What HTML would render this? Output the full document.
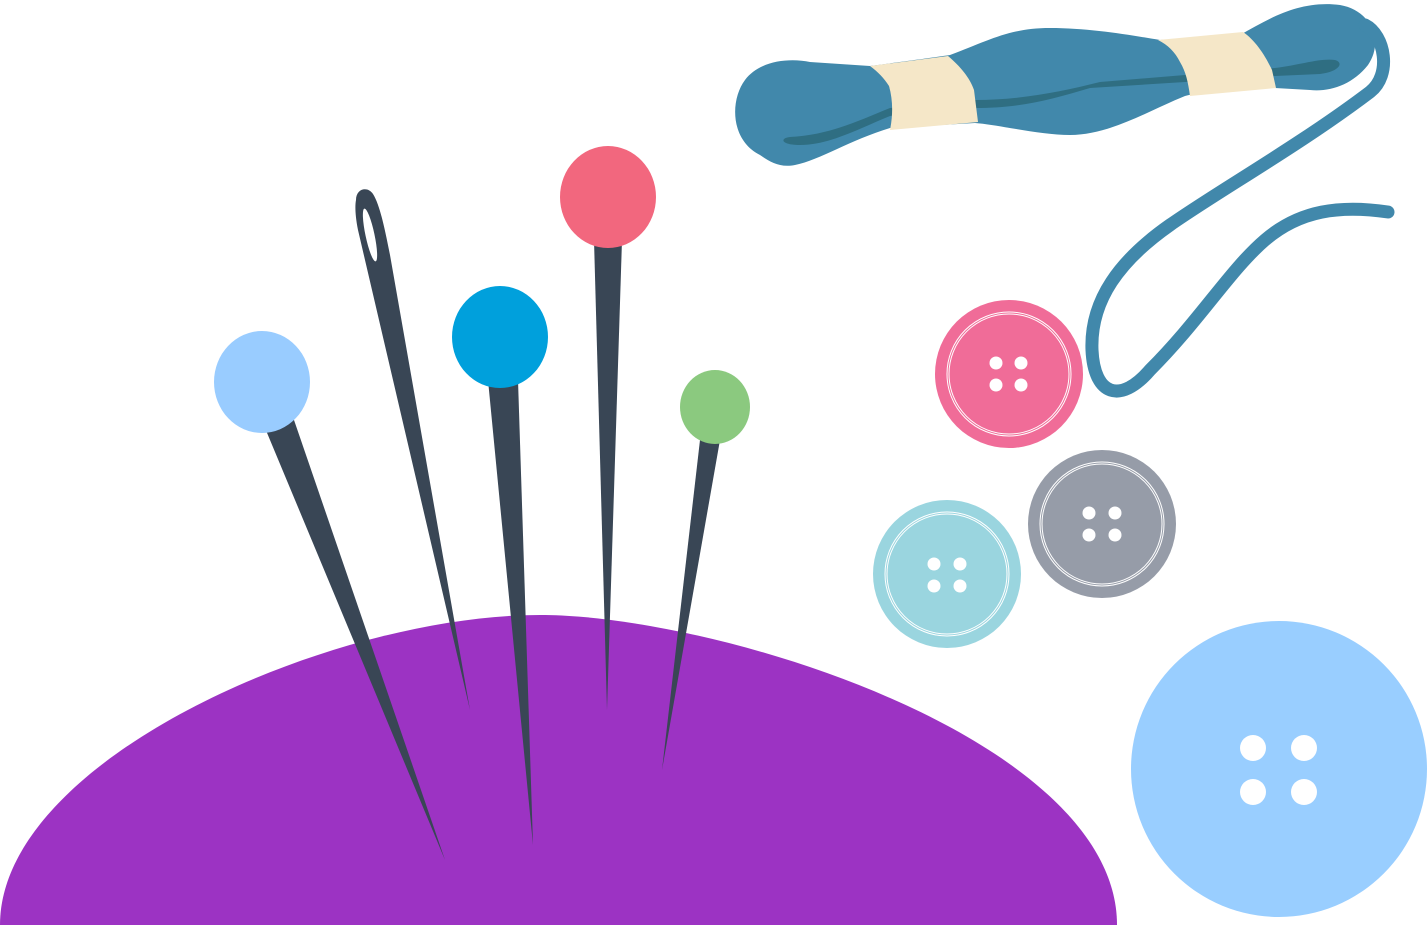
<!DOCTYPE html>
<html><head><meta charset="utf-8"><style>html,body{margin:0;padding:0;background:#fff;width:1428px;height:925px;overflow:hidden}svg{display:block}</style></head>
<body>
<svg width="1428" height="925" viewBox="0 0 1428 925" xmlns="http://www.w3.org/2000/svg">
<path d="M0,925 C0,760 330,615 540,615 C720,615 1117,740 1117,925 Z" fill="#9C33C3"/>
<g fill="#394655">
<polygon points="265,428 294,420 445,860"/>
<path d="M356,200 C356,188 368,186 373,194 C380,205 385,230 390,255 L470,710 L358,230 C355,215 355,205 356,200 Z"/>
<polygon points="488,380 518,380 533,845"/>
<polygon points="594,240 622,240 607,710"/>
<polygon points="700,440 720,440 662,770"/>
</g>
<ellipse cx="370" cy="235" rx="4.5" ry="27" transform="rotate(-12 370 235)" fill="#fff"/>
<ellipse cx="262" cy="382" rx="48" ry="51" fill="#99CCFF"/>
<ellipse cx="500" cy="337" rx="48" ry="51" fill="#00A0DC"/>
<ellipse cx="608" cy="197" rx="48" ry="51" fill="#F2677E"/>
<ellipse cx="715" cy="407" rx="35" ry="37" fill="#8BC97F"/>
<path d="M760,155 C730,140 730,100 745,80 C760,60 790,58 810,62 L870,66 C900,62 930,58 950,55 C990,40 1010,28 1050,28 C1090,28 1130,35 1160,40 L1240,35 C1270,18 1300,0 1340,5 C1370,10 1385,40 1368,65 C1352,85 1330,92 1310,90 L1275,88 C1240,88 1200,92 1185,96 C1150,110 1110,135 1070,135 C1040,135 1000,125 975,123 L890,128 C850,140 820,160 795,165 C780,168 770,162 760,155 Z" fill="#4188AB"/>
<path d="M790,137 C830,135 860,120 890,108 L975,100 C1020,100 1060,92 1100,82 L1185,75 L1275,68 C1300,65 1320,58 1335,60 C1345,63 1338,72 1320,74 L1275,76 L1185,82 L1090,88 C1050,100 1020,108 975,108 L890,116 C860,128 830,145 800,145 C780,145 780,138 790,137 Z" fill="#2F6E82"/>
<path d="M870,66 L948,56 C960,66 970,78 974,90 L978,122 L890,130 C893,115 893,100 889,86 C884,78 878,72 870,66 Z" fill="#F5E7C8"/>
<path d="M1158,40 L1243,32 C1255,40 1265,55 1272,70 L1276,88 L1190,96 C1188,82 1186,72 1180,62 C1175,52 1168,45 1158,40 Z" fill="#F5E7C8"/>
<path d="M1365,25 C1385,35 1392,75 1370,92 C1300,145 1220,190 1170,225 C1120,260 1090,300 1092,350 C1094,395 1120,405 1150,370 C1200,320 1230,270 1265,240 C1300,210 1340,205 1388,212" fill="none" stroke="#4188AB" stroke-width="13" stroke-linecap="round"/>
<g>
<circle cx="1009" cy="374" r="74" fill="#F06C98"/>
<circle cx="1009" cy="374" r="60" fill="none" stroke="#fff" stroke-width="1"/>
<circle cx="1009" cy="374" r="62" fill="none" stroke="#fff" stroke-width="1"/>
<g fill="#fff"><circle cx="996" cy="363" r="6.5"/><circle cx="1021" cy="363" r="6.5"/><circle cx="996" cy="385" r="6.5"/><circle cx="1021" cy="385" r="6.5"/></g>
</g>
<g>
<circle cx="1102" cy="524" r="74" fill="#969CA8"/>
<circle cx="1102" cy="524" r="60" fill="none" stroke="#fff" stroke-width="1"/>
<circle cx="1102" cy="524" r="62" fill="none" stroke="#fff" stroke-width="1"/>
<g fill="#fff"><circle cx="1089" cy="513" r="6.5"/><circle cx="1115" cy="513" r="6.5"/><circle cx="1089" cy="535" r="6.5"/><circle cx="1115" cy="535" r="6.5"/></g>
</g>
<g>
<circle cx="947" cy="574" r="74" fill="#9AD5DF"/>
<circle cx="947" cy="574" r="60" fill="none" stroke="#fff" stroke-width="1"/>
<circle cx="947" cy="574" r="62" fill="none" stroke="#fff" stroke-width="1"/>
<g fill="#fff"><circle cx="934" cy="564" r="6.5"/><circle cx="960" cy="564" r="6.5"/><circle cx="934" cy="586" r="6.5"/><circle cx="960" cy="586" r="6.5"/></g>
</g>
<circle cx="1279" cy="769" r="148" fill="#99CEFF"/>
<g fill="#fff"><circle cx="1253" cy="748" r="13"/><circle cx="1304" cy="748" r="13"/><circle cx="1253" cy="792" r="13"/><circle cx="1304" cy="792" r="13"/></g>
</svg>
</body></html>
